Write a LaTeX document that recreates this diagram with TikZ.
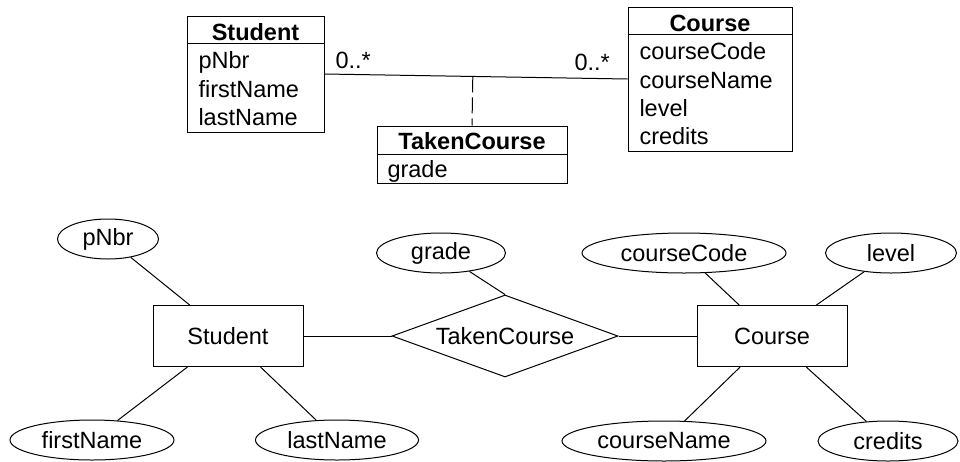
\documentclass[tikz,border=0pt]{standalone}
\usepackage{fontspec}
\setmainfont{Liberation Sans}
\usetikzlibrary{shapes.geometric,calc}

\begin{document}
\begin{tikzpicture}[x=1pt,y=-1pt,
  line width=1pt,
  every node/.style={font=\fontsize{23.5}{28}\selectfont, inner sep=0pt},
  umlbox/.style={draw, rectangle},
  umlhead/.style={anchor=base, font=\fontsize{23.5}{28}\selectfont\bfseries},
  umlattr/.style={anchor=base west},
  mult/.style={anchor=base west},
  entity/.style={draw, rectangle, minimum width=150pt, minimum height=61pt},
  relship/.style={draw, diamond, aspect=2.76, minimum width=226pt, minimum height=82pt},
  attrib/.style={draw, ellipse, minimum height=40pt},
  assocdash/.style={dash pattern=on 16pt off 5pt}
]
\useasboundingbox (0,0) rectangle (960,461);

% ---------- UML class diagram ----------
\node[umlbox, minimum width=137pt, minimum height=116pt] (uStudent) at (255.5,74) {};
\draw (uStudent.north west) ++(0,28) -- ++(137,0);
\node[umlhead] (uStudentHead) at (255.5,40) {Student};
\node[umlattr] (uStudentA1) at (198,68) {pNbr};
\node[umlattr] (uStudentA2) at (198,97) {firstName};
\node[umlattr] (uStudentA3) at (198,125) {lastName};

\node[umlbox, minimum width=164pt, minimum height=144pt] (uCourse) at (710,79) {};
\draw (uCourse.north west) ++(0,28) -- ++(164,0);
\node[umlhead] (uCourseHead) at (710,31) {Course};
\node[umlattr] (uCourseA1) at (639,59) {courseCode};
\node[umlattr] (uCourseA2) at (639,88) {courseName};
\node[umlattr] (uCourseA3) at (639,116) {level};
\node[umlattr] (uCourseA4) at (639,144) {credits};

\node[umlbox, minimum width=190pt, minimum height=57pt] (uTaken) at (472,154.5) {};
\draw (uTaken.north west) ++(0,29) -- ++(190,0);
\node[umlhead] (uTakenHead) at (472,149) {TakenCourse};
\node[umlattr] (uTakenA1) at (387,177) {grade};

% association with its association class
\draw (uStudent.east) -- (uCourse.west);
\coordinate (assocMid) at ($(uStudent.east)!(uTaken.north)!(uCourse.west)$);
\draw[assocdash] (assocMid) -- (uTaken.north);
\node[mult] (multLeft) at (335,68) {0..*};
\node[mult] (multRight) at (574,70) {0..*};

% ---------- ER diagram ----------
\node[entity] (eStudent) at (228,336) {Student};
\node[relship] (eTaken) at (505,336) {TakenCourse};
\node[entity] (eCourse) at (772,336) {Course};

\node[attrib, minimum width=101pt] (aPnbr) at (108,239) {pNbr};
\node[attrib, minimum width=164pt] (aFirst) at (92,440) {firstName};
\node[attrib, minimum width=163pt] (aLast) at (337,440) {lastName};
\node[attrib, minimum width=129pt] (aGrade) at (441,253) {grade};
\node[attrib, minimum width=204pt] (aCode) at (684,253) {courseCode};
\node[attrib, minimum width=131pt] (aLevel) at (891,253) {level};
\node[attrib, minimum width=204pt] (aName) at (664,441) {courseName};
\node[attrib, minimum width=140pt] (aCredits) at (888,441) {credits};

\draw (aPnbr) -- (eStudent);
\draw (aFirst) -- (eStudent);
\draw (aLast) -- (eStudent);
\draw (aGrade) -- (eTaken.north);
\draw (aCode) -- (eCourse);
\draw (aLevel) -- (eCourse);
\draw (aName) -- (eCourse);
\draw (aCredits) -- (eCourse);
\draw (eStudent) -- (eTaken);
\draw (eTaken) -- (eCourse);
\end{tikzpicture}
\end{document}
